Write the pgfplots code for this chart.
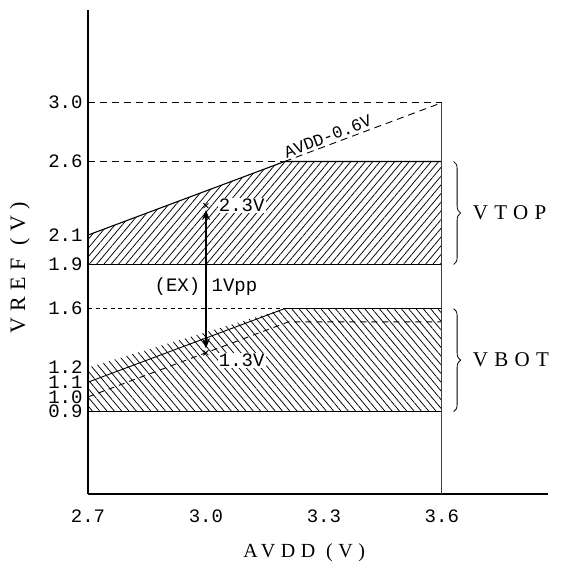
\documentclass[border=0pt]{standalone}
\usepackage{fontspec}
\setmainfont{Liberation Serif}
\newfontfamily\mono{Liberation Mono}
\newfontfamily\lspA[LetterSpace=30]{Liberation Serif}
\newfontfamily\lspB[LetterSpace=28]{Liberation Serif}
\usepackage{pgfplots}
\pgfplotsset{compat=1.18}
\usetikzlibrary{patterns.meta,decorations.pathreplacing,arrows.meta}
\begin{document}
\begin{tikzpicture}
\path[use as bounding box] (0,0) rectangle (568bp,571bp);
\begin{axis}[
  at={(88bp,77bp)}, anchor=south west, scale only axis,
  width=460bp, height=484bp,
  xmin=2.7, xmax=3.87, ymin=0.34, ymax=3.63,
  axis lines=left, axis line style={line width=1.2bp,-},
  xtick={2.7,3.0,3.3,3.6}, xticklabels={2.7,3.0,3.3,3.6},
  ytick={0.9,1.0,1.1,1.2,1.6,1.9,2.1,2.6,3.0},
  yticklabels={0.9,1.0,1.1,1.2,1.6,1.9,2.1,2.6,3.0},
  major tick length=0pt,
  tick label style={font=\mono\fontsize{19bp}{19bp}\selectfont},
  xticklabel style={yshift=-12bp},
  yticklabel style={xshift=-2bp},
  clip=false,
]
% VTOP region
\addplot[draw=none, pattern={Lines[angle=50,distance=5.6bp,line width=0.75bp]}]
  coordinates {(2.7,1.9) (2.7,2.1) (3.2,2.6) (3.6,2.6) (3.6,1.9)} -- cycle;
\addplot[black, line width=1.1bp] coordinates {(2.7,2.1) (3.2,2.6) (3.6,2.6)};
\addplot[black, line width=1.1bp] coordinates {(2.7,1.9) (3.6,1.9)};
% VBOT region
\addplot[draw=none, pattern={Lines[angle=-50,distance=5.6bp,line width=0.75bp]}]
  coordinates {(2.7,0.9) (2.7,1.2) (3.2,1.6) (3.6,1.6) (3.6,0.9)} -- cycle;
\addplot[black, line width=1.1bp] coordinates {(2.7,0.9) (3.6,0.9)};
\addplot[black, line width=1.1bp] coordinates {(3.2,1.6) (3.6,1.6)};
\addplot[black, line width=0.9bp, dash pattern=on 4bp off 3.5bp] coordinates {(2.7,1.6) (3.2,1.6)};
\addplot[black, line width=0.9bp] coordinates {(2.7,1.1) (3.2,1.6)};
\addplot[black, line width=0.9bp, dash pattern=on 6bp off 5bp] coordinates {(2.7,1.0) (3.21,1.51) (3.6,1.51)};
% dashed references
\addplot[black, line width=0.9bp, dash pattern=on 7bp off 5bp] coordinates {(2.7,3.0) (3.6,3.0)};
\addplot[black, line width=0.9bp, dash pattern=on 7bp off 5bp] coordinates {(2.7,2.6) (3.2,2.6)};
\addplot[black, line width=0.9bp, dash pattern=on 7bp off 5bp] coordinates {(3.2,2.6) (3.6,3.0)};
% vertical line at 3.6
\addplot[black!75, line width=1.2bp] coordinates {(3.6,0.34) (3.6,3.0)};
% example arrow
\addplot[black, line width=2.8bp, {Stealth[length=10bp,width=8bp]}-{Stealth[length=10bp,width=8bp]}]
  coordinates {(3.0,1.33) (3.0,2.27)};
\addplot[black, only marks, mark=x, mark size=3.5bp, line width=0.8bp] coordinates {(3.0,2.3) (3.0,1.3)};
% texts
\node[font=\mono\fontsize{19bp}{19bp}\selectfont, anchor=west, fill=white, inner sep=1bp] at (axis cs:3.03,2.3) {2.3V};
\node[font=\mono\fontsize{19bp}{19bp}\selectfont, anchor=west, fill=white, inner sep=1bp] at (axis cs:3.03,1.25) {1.3V};
\node[font=\mono\fontsize{19bp}{19bp}\selectfont] at (axis cs:3.0,1.75) {(EX) 1Vpp};
\node[font=\mono\fontsize{17bp}{17bp}\selectfont, rotate=21, fill=white, inner sep=1bp] at (axis cs:3.31,2.77) {AVDD-0.6V};
% braces
\draw[decorate, decoration={brace, amplitude=7bp}, line width=0.8bp] (axis cs:3.63,2.6) -- (axis cs:3.63,1.9);
\draw[decorate, decoration={brace, amplitude=7bp}, line width=0.8bp] (axis cs:3.63,1.6) -- (axis cs:3.63,0.9);
\node[font=\lspA\fontsize{21bp}{21bp}\selectfont, anchor=west] at (axis cs:3.67,2.25) {VTOP};
\node[font=\lspA\fontsize{21bp}{21bp}\selectfont, anchor=west] at (axis cs:3.67,1.25) {VBOT};
% axis labels
\node[font=\lspB\fontsize{20bp}{20bp}\selectfont] at (rel axis cs:0.47,-0.122) {AVDD (V)};
\node[font=\lspA\fontsize{22bp}{22bp}\selectfont, rotate=90] at (rel axis cs:-0.148,0.467) {VREF (V)};
\end{axis}
\end{tikzpicture}
\end{document}
